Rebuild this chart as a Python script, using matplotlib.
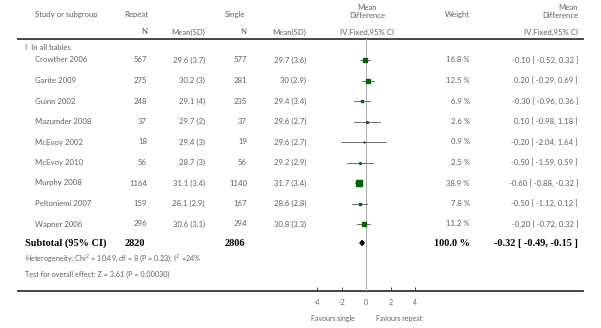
import numpy as np
import matplotlib.pyplot as plt

# study rows
studies = ["Crowther 2006", "Garite 2009", "Guinn 2002", "Mazumder 2008", "McEvoy 2002",
           "McEvoy 2010", "Murphy 2008", "Peltoniemi 2007", "Wapner 2006"]
rep_n = [567, 275, 248, 37, 18, 56, 1164, 159, 296]
rep_msd = ["29.6 (3.7)", "30.2 (3)", "29.1 (4)", "29.7 (2)", "29.4 (3)",
           "28.7 (3)", "31.1 (3.4)", "28.1 (2.9)", "30.6 (3.1)"]
sin_n = [577, 281, 235, 37, 19, 56, 1140, 167, 294]
sin_msd = ["29.7 (3.6)", "30 (2.9)", "29.4 (3.4)", "29.6 (2.7)", "29.6 (2.7)",
           "29.2 (2.9)", "31.7 (3.4)", "28.6 (2.8)", "30.8 (3.3)"]
weight = [16.8, 12.5, 6.9, 2.6, 0.9, 2.5, 38.9, 7.8, 11.2]
md = [-0.10, 0.20, -0.30, 0.10, -0.20, -0.50, -0.60, -0.50, -0.20]
lo = [-0.52, -0.29, -0.96, -0.98, -2.04, -1.59, -0.88, -1.12, -0.72]
hi = [0.32, 0.69, 0.36, 1.18, 1.64, 0.59, -0.32, 0.12, 0.32]

sub_n = (2820, 2806)
sub_md, sub_lo, sub_hi = -0.32, -0.49, -0.15
ticks = [-4, -2, 0, 2, 4]

W, H = 601, 328
fig = plt.figure(figsize=(W / 100, H / 100), dpi=100)
ax = fig.add_axes([0, 0, 1, 1])
ax.set_xlim(0, W)
ax.set_ylim(H, 0)
ax.axis("off")

sans = "Lato"
grey = "#606060"
fs = 5.6

def t(x, y, s, ha="left", **kw):
    kw.setdefault("fontsize", fs)
    kw.setdefault("color", grey)
    kw.setdefault("family", sans)
    ax.text(x, y, s, ha=ha, va="center", **kw)

# headers
t(35, 15, "Study or subgroup")
t(148, 15, "Repeat", ha="right")
t(245, 15, "Single", ha="right")
t(470, 15, "Weight", ha="right")
t(367, 7, "Mean", ha="center")
t(367, 16, "Difference", ha="center")
t(578, 7, "Mean", ha="right")
t(578, 16, "Difference", ha="right")
t(147, 32, "N", ha="right")
t(205, 32, "Mean(SD)", ha="right")
t(246, 32, "N", ha="right")
t(306, 32, "Mean(SD)", ha="right")
t(367, 32, "IV,Fixed,95% CI", ha="center")
t(578, 32, "IV,Fixed,95% CI", ha="right")
ax.plot([18, 583], [39, 39], color="#444444", lw=1.4)
ax.plot([18, 583], [291, 291], color="#444444", lw=1.4)

t(25, 48, "I  In all babies")

row_y = 60 + 20.5 * np.arange(len(studies))
for i, y in enumerate(row_y):
    t(35, y, studies[i])
    t(147, y, str(rep_n[i]), ha="right")
    t(205, y, rep_msd[i], ha="right")
    t(247, y, str(sin_n[i]), ha="right")
    t(306, y, sin_msd[i], ha="right")
    t(470, y, f"{weight[i]} %", ha="right")
    t(578, y, f"{md[i]:.2f} [ {lo[i]:.2f}, {hi[i]:.2f} ]", ha="right")

sub_y = 243
bold = dict(family="Liberation Serif", fontweight="bold", fontsize=7.4, color="black")
t(25, sub_y, "Subtotal (95% CI)", **bold)
t(145, sub_y, str(sub_n[0]), ha="right", **bold)
t(245, sub_y, str(sub_n[1]), ha="right", **bold)
t(470, sub_y, "100.0 %", ha="right", **bold)
t(578, sub_y, f"{sub_md:.2f} [ {sub_lo:.2f}, {sub_hi:.2f} ]", ha="right", **bold)
t(25, 258, "Heterogeneity: Chi$^2$ = 10.49, df = 8 (P = 0.23); I$^2$ =24%", fontsize=5.2)
t(25, 274, "Test for overall effect: Z = 3.61 (P = 0.00030)", fontsize=5.2)

# forest panel: x from -4 to 4 spans pixels 317..415, y in pixel rows 39..291
x0, x1 = 317, 415
fa = fig.add_axes([x0 / W, (H - 291) / H, (x1 - x0) / W, (291 - 39) / H])
fa.set_xlim(-4, 4)
fa.set_ylim(291, 39)
fa.patch.set_alpha(0)
for sp in fa.spines.values():
    sp.set_visible(False)
fa.set_yticks([])
fa.set_xticks(ticks)
fa.set_xticklabels([str(v) for v in ticks])
fa.tick_params(axis="x", direction="in", length=3, width=0.7, color="#444444",
               labelsize=5, labelcolor=grey, pad=6)
for lbl in fa.get_xticklabels():
    lbl.set_family(sans)
fa.axvline(0, color="#aaaaaa", lw=0.7)

for i, y in enumerate(row_y):
    fa.plot([lo[i], hi[i]], [y, y], color="#555555", lw=0.6, clip_on=False)
    fa.plot(md[i], y, marker="s", ms=np.sqrt(weight[i]) * 0.72, color="#006400",
            mec="#006400", clip_on=False)

fa.fill([sub_lo, sub_md, sub_hi, sub_md], [sub_y, sub_y - 2.5, sub_y, sub_y + 2.5],
        color="black", clip_on=False)

fa.text(-2.7, 318, "Favours single", ha="center", va="center", fontsize=5,
        color=grey, family=sans, transform=fa.transData, clip_on=False)
fa.text(2.7, 318, "Favours repeat", ha="center", va="center", fontsize=5,
        color=grey, family=sans, transform=fa.transData, clip_on=False)

fig.savefig("out.png", dpi=100)
